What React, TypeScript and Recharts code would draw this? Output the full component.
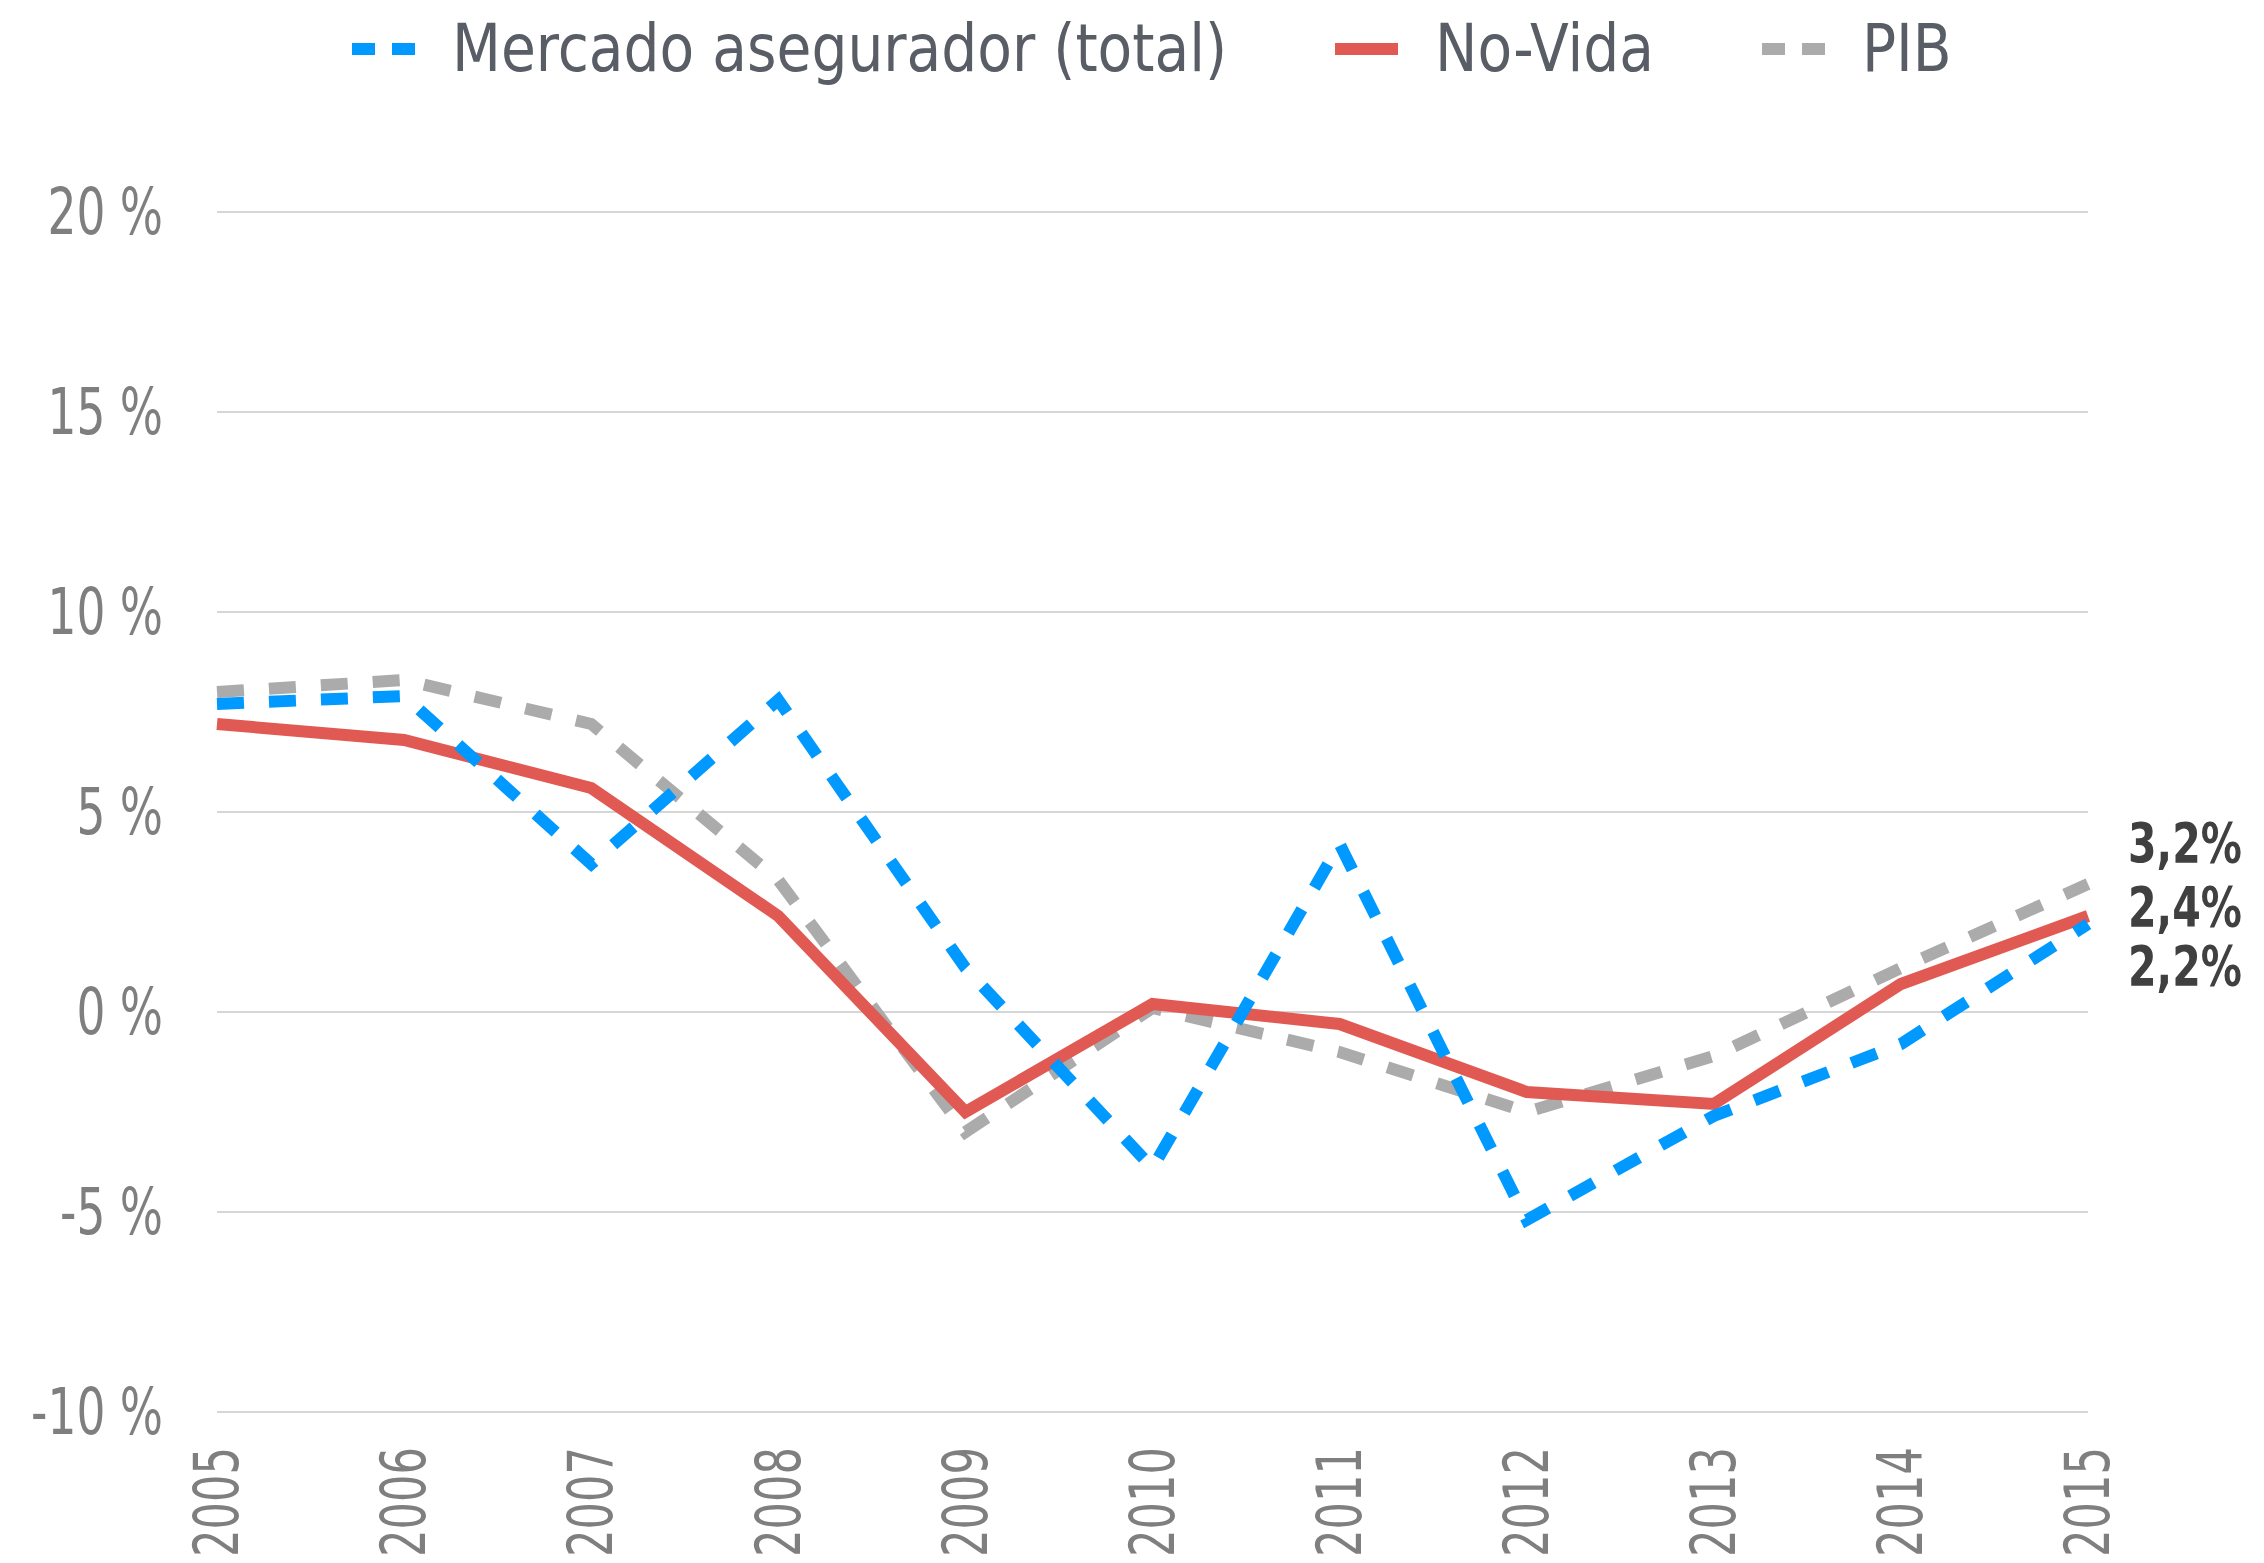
import { LineChart, Line, XAxis, YAxis, CartesianGrid, Legend, LabelList } from 'recharts'

// datos (crecimiento anual, %)
const years = ['2005', '2006', '2007', '2008', '2009', '2010', '2011', '2012', '2013', '2014', '2015']
const mercado = [7.7, 7.9, 3.7, 7.8, 1.1, -3.9, 4.2, -5.2, -2.6, -0.8, 2.2]
const noVida = [7.2, 6.8, 5.6, 2.4, -2.5, 0.2, -0.3, -2.0, -2.3, 0.7, 2.4]
const pib = [8.0, 8.3, 7.2, 3.3, -3.0, 0.1, -1.0, -2.5, -1.1, 1.1, 3.2]
const yTicks = [-10, -5, 0, 5, 10, 15, 20]

const chartData = years.map((year, i) => ({
  year,
  mercado: mercado[i],
  noVida: noVida[i],
  pib: pib[i],
}))

const BLUE = '#0099ff'
const RED = '#e05a53'
const GRAY = '#ababab'
const FONT = "'DejaVu Sans Condensed', 'DejaVu Sans', sans-serif"

const legendItems = [
  { name: 'Mercado asegurador (total)', color: BLUE, dashed: true },
  { name: 'No-Vida', color: RED, dashed: false },
  { name: 'PIB', color: GRAY, dashed: true },
]

function ChartLegend() {
  return (
    <div
      style={{
        display: 'flex',
        alignItems: 'center',
        height: 97,
        paddingLeft: 352,
        fontFamily: FONT,
        fontSize: 63,
        color: '#595d66',
      }}
    >
      {legendItems.map((item) => (
        <div key={item.name} style={{ display: 'flex', alignItems: 'center', marginRight: 108 }}>
          <svg width={63} height={14} style={{ marginRight: 37 }}>
            <line
              x1={0}
              y1={7}
              x2={63}
              y2={7}
              stroke={item.color}
              strokeWidth={12}
              strokeDasharray={item.dashed ? '23 17' : undefined}
            />
          </svg>
          <span style={{ whiteSpace: 'nowrap', display: 'inline-block', transform: 'scaleY(1.05)' }}>
            {item.name}
          </span>
        </div>
      ))}
    </div>
  )
}

// la fuente original es más estrecha: se comprime en horizontal
function PercentTick({ x, y, payload }: any) {
  return (
    <text
      transform={`translate(${x}, ${y}) scale(0.79, 1)`}
      textAnchor="end"
      dominantBaseline="central"
      fill="#7f7f7f"
      fontSize={64}
      fontFamily={FONT}
    >
      {`${payload.value} %`}
    </text>
  )
}

function YearTick({ x, y, payload }: any) {
  return (
    <text
      transform={`translate(${x}, ${y}) rotate(-90) scale(0.775, 1)`}
      textAnchor="end"
      dominantBaseline="central"
      fill="#7f7f7f"
      fontSize={62}
      fontFamily={FONT}
    >
      {payload.value}
    </text>
  )
}

// etiqueta del último punto, desplazada para que no se solapen
function endLabel(dy: number) {
  return (props: any) => {
    const { x, y, value, index } = props
    if (index !== years.length - 1) return null
    return (
      <text
        transform={`translate(${x + 40}, ${y + dy}) scale(0.83, 1)`}
        dominantBaseline="central"
        fill="#404040"
        fontSize={55}
        fontWeight="bold"
        fontFamily={FONT}
      >
        {`${Number(value).toFixed(1).replace('.', ',')}%`}
      </text>
    )
  }
}

export default function App() {
  return (
    <div style={{ width: 2264, height: 1563, background: '#fff' }}>
      <style>{'body { margin: 0; }'}</style>
      <LineChart
        width={2264}
        height={1563}
        data={chartData}
        margin={{ top: 212, right: 176, bottom: 0, left: 0 }}
      >
        <CartesianGrid vertical={false} stroke="#c8c8c8" strokeWidth={1.5} />
        <XAxis
          dataKey="year"
          height={151}
          axisLine={false}
          tickLine={false}
          tickSize={0}
          tickMargin={35}
          interval={0}
          tick={<YearTick />}
        />
        <YAxis
          width={217}
          domain={[-10, 20]}
          ticks={yTicks}
          axisLine={false}
          tickLine={false}
          tickSize={0}
          tickMargin={54}
          tick={<PercentTick />}
        />
        <Legend
          layout="horizontal"
          verticalAlign="middle"
          align="center"
          wrapperStyle={{ top: 0, left: 0, width: 2264 }}
          content={() => <ChartLegend />}
        />
        <Line
          type="linear"
          dataKey="pib"
          name="PIB"
          stroke={GRAY}
          strokeWidth={12}
          strokeDasharray="27 25"
          dot={false}
          isAnimationActive={false}
        >
          <LabelList dataKey="pib" content={endLabel(-41)} />
        </Line>
        <Line
          type="linear"
          dataKey="noVida"
          name="No-Vida"
          stroke={RED}
          strokeWidth={12}
          dot={false}
          isAnimationActive={false}
        >
          <LabelList dataKey="noVida" content={endLabel(-9)} />
        </Line>
        <Line
          type="linear"
          dataKey="mercado"
          name="Mercado asegurador (total)"
          stroke={BLUE}
          strokeWidth={12}
          strokeDasharray="27 25"
          dot={false}
          isAnimationActive={false}
        >
          <LabelList dataKey="mercado" content={endLabel(42)} />
        </Line>
      </LineChart>
    </div>
  )
}
